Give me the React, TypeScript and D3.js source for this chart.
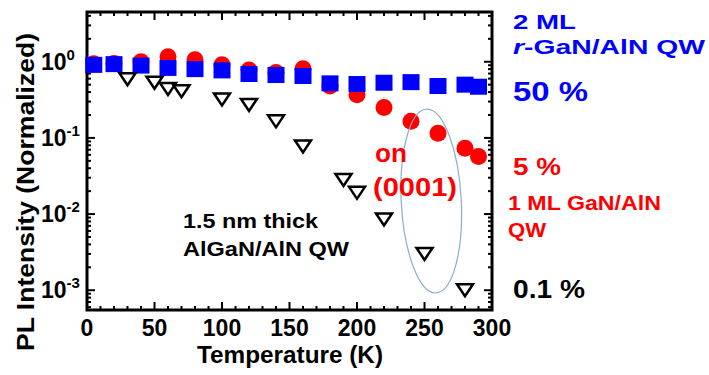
import React from 'react';
import * as d3 from 'd3';

// data
const tempBlue = [5, 20, 40, 60, 80, 100, 120, 140, 160, 180, 200, 220, 240, 260, 280, 290];
const valBlue = [0.91, 0.93, 0.89, 0.83, 0.8, 0.77, 0.69, 0.67, 0.65, 0.52, 0.51, 0.53, 0.54, 0.48, 0.5, 0.47];

const tempRed = [5, 20, 40, 60, 80, 100, 120, 140, 160, 180, 200, 220, 240, 260, 280, 290];
const valRed = [0.94, 0.95, 1.0, 1.16, 1.06, 0.91, 0.78, 0.72, 0.81, 0.48, 0.37, 0.25, 0.165, 0.115, 0.073, 0.057];

const tempTri = [30, 50, 60, 70, 100, 120, 140, 160, 190, 200, 220, 250, 280];
const valTri = [0.59, 0.53, 0.44, 0.41, 0.32, 0.27, 0.165, 0.077, 0.028, 0.019, 0.0085, 0.003, 0.001];

const xTickLabels = ['0', '50', '100', '150', '200', '250', '300'];
const yDecades = [0, -1, -2, -3];

const FONT = "'Liberation Sans', Arial, sans-serif";
const BLUE = '#0000ff';
const RED = '#ff0000';

const W = 709;
const H = 375;

// text in the reference is a bit wider than Arial, so widths are pinned
const Label = ({ x, y, size, fill = '#000', len, children }: any) => (
  <text x={x} y={y} fontSize={size} fill={fill} textLength={len} lengthAdjust="spacingAndGlyphs">
    {children}
  </text>
);

const App = () => {
  // plot box
  const left = 87, right = 492, top = 12, bottom = 310;

  const x = d3.scaleLinear().domain([0, 300]).range([left, right]);
  const y = d3.scaleLog().domain([5.5e-4, 4.5]).range([bottom, top]);

  const xMinor = d3.range(0, 301, 10);
  const yMinor = y.ticks().filter(v => v >= 5.5e-4 && v <= 4.5);

  const isMajorY = (v: number) => Math.abs(Math.log10(v) - Math.round(Math.log10(v))) < 1e-6;

  const tri = 'M-8,-6L8,-6L0,6Z';

  return (
    <svg width={W} height={H} style={{ position: 'absolute', left: 0, top: 0, background: '#fff' }}
      fontFamily={FONT} fontWeight="bold">
      {/* ticks, x */}
      {xMinor.map(t => {
        const len = t % 50 === 0 ? 8 : 4;
        return (
          <g key={'xt' + t} stroke="#000" strokeWidth={2}>
            <line x1={x(t)} x2={x(t)} y1={bottom} y2={bottom - len} />
            <line x1={x(t)} x2={x(t)} y1={top} y2={top + len} />
          </g>
        );
      })}
      {/* ticks, y */}
      {yMinor.map((v, i) => {
        const len = isMajorY(v) ? 8 : 4;
        return (
          <g key={'yt' + i} stroke="#000" strokeWidth={2}>
            <line x1={left} x2={left + len} y1={y(v)} y2={y(v)} />
            <line x1={right} x2={right - len} y1={y(v)} y2={y(v)} />
          </g>
        );
      })}
      <rect x={left} y={top} width={right - left} height={bottom - top} fill="none" stroke="#000" strokeWidth={3} />

      {/* x labels */}
      {xTickLabels.map(s => (
        <text key={'xl' + s} x={x(+s)} y={336} fontSize={23} textAnchor="middle">{s}</text>
      ))}
      {/* y labels */}
      {yDecades.map(d => (
        <text key={'yl' + d} x={41} y={y(Math.pow(10, d)) + 8} fontSize={23}>
          10<tspan fontSize={15} dy={-10}>{d}</tspan>
        </text>
      ))}

      <text x={290} y={363} fontSize={23} textAnchor="middle" textLength={186} lengthAdjust="spacingAndGlyphs">
        Temperature (K)
      </text>
      <text transform="translate(34,192) rotate(-90)" fontSize={23} textAnchor="middle"
        textLength={318} lengthAdjust="spacingAndGlyphs">
        PL Intensity (Normalized)
      </text>

      {/* series */}
      {tempRed.map((t, i) => (
        <circle key={'r' + i} cx={x(t)} cy={y(valRed[i])} r={8.5} fill={RED} />
      ))}
      {tempBlue.map((t, i) => (
        <rect key={'b' + i} x={x(t) - 8.5} y={y(valBlue[i]) - 8} width={17} height={16} fill={BLUE} />
      ))}
      {tempTri.map((t, i) => (
        <path key={'k' + i} d={tri} transform={`translate(${x(t)},${y(valTri[i])})`}
          fill="#fff" stroke="#000" strokeWidth={2.5} />
      ))}

      {/* ellipse annotation */}
      <ellipse cx={x(255)} cy={y(0.0148)} rx={30} ry={92} fill="none" stroke="#8eabcb" strokeWidth={1.2}
        transform={`rotate(-3,${x(255)},${y(0.0148)})`} />

      {/* in-plot text */}
      <Label x={375} y={162} size={26} fill={RED} len={32}>on</Label>
      <Label x={373} y={196} size={26} fill={RED} len={84}>(0001)</Label>
      <Label x={183} y={228} size={21} len={135}>1.5 nm thick</Label>
      <Label x={183} y={256} size={21} len={166}>AlGaN/AlN QW</Label>

      {/* right side labels */}
      <Label x={513} y={29} size={21} fill={BLUE} len={63}>2 ML</Label>
      <Label x={513} y={54} size={21} fill={BLUE} len={192}>
        <tspan fontStyle="italic">r</tspan>-GaN/AlN QW
      </Label>
      <Label x={513} y={101} size={27} fill={BLUE} len={75}>50 %</Label>
      <Label x={513} y={175} size={23} fill={RED} len={48}>5 %</Label>
      <Label x={508} y={210} size={20} fill={RED} len={153}>1 ML GaN/AlN</Label>
      <Label x={508} y={237} size={20} fill={RED} len={38}>QW</Label>
      <Label x={513} y={298} size={25} len={72}>0.1 %</Label>
    </svg>
  );
};

export default App;
